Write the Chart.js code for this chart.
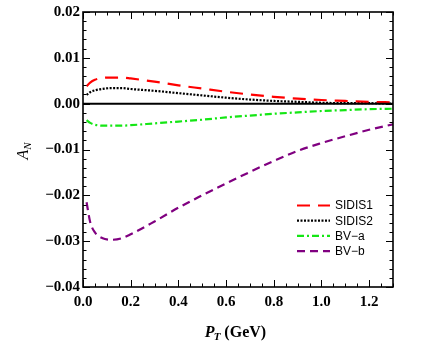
<!DOCTYPE html>
<html lang="en">
<head>
<meta charset="UTF-8" />
<title>A_N vs P_T</title>
<script src="https://cdn.jsdelivr.net/npm/chart.js@4.4.0/dist/chart.umd.min.js"></script>
<style>
  body { margin: 0; background: #fff; }
  canvas { display: block; }
</style>
</head>
<body>
<canvas id="chart" width="436" height="354"></canvas>
<script>
// values
const ptValues = [0.015, 0.03, 0.05, 0.08, 0.12, 0.16, 0.2, 0.3, 0.4, 0.5, 0.6, 0.7, 0.8, 0.9, 1.0, 1.1, 1.2, 1.3];
const sidis1 = [0.0038, 0.0046, 0.0052, 0.0056, 0.0057, 0.0057, 0.0055, 0.0048, 0.0040, 0.0033, 0.0026, 0.0020, 0.0015, 0.0011, 0.0008, 0.0006, 0.0004, 0.0003];
const sidis2 = [0.0019, 0.0025, 0.0029, 0.0032, 0.0034, 0.0034, 0.0032, 0.0028, 0.0023, 0.0018, 0.0013, 0.0009, 0.0006, 0.0004, 0.0002, 0.0001, 0.0001, 0.0000];
const bvA = [-0.0036, -0.0042, -0.0046, -0.0048, -0.0048, -0.0048, -0.0047, -0.0043, -0.0039, -0.0035, -0.0030, -0.0026, -0.0022, -0.0019, -0.0016, -0.0014, -0.0012, -0.0011];
const bvB = [-0.0215, -0.0258, -0.0281, -0.0293, -0.0297, -0.0294, -0.0285, -0.0257, -0.0227, -0.0200, -0.0174, -0.0149, -0.0125, -0.0103, -0.0086, -0.0071, -0.0057, -0.0045];

const seriesNames = ["SIDIS1", "SIDIS2", "BV\u2212a", "BV\u2212b"];
const seriesData = [sidis1, sidis2, bvA, bvB];
const seriesColors = ["#ff0000", "#000000", "#14e614", "#800080"];
const seriesDashes = [[13, 8], [2, 1.5], [7, 3, 2, 3], [8, 5]];

const xTickValues = [0, 0.2, 0.4, 0.6, 0.8, 1.0, 1.2];
const yTickValues = [-0.04, -0.03, -0.02, -0.01, 0, 0.01, 0.02];
const xRange = [0, 1.3];
const yRange = [-0.04, 0.02];

const tickFont = { family: "'Liberation Serif', 'Times New Roman', serif", size: 15, weight: "bold" };

function pts(arr) {
  return ptValues.map((x, i) => ({ x: x, y: arr[i] }));
}

const datasets = [{
  label: "zero",
  data: [{ x: xRange[0], y: 0 }, { x: xRange[1], y: 0 }],
  borderColor: "#000",
  borderWidth: 2,
  pointRadius: 0
}];
seriesNames.forEach((name, i) => {
  datasets.push({
    label: name,
    data: pts(seriesData[i]),
    borderColor: seriesColors[i],
    borderDash: seriesDashes[i],
    borderWidth: 2.2,
    pointRadius: 0,
    cubicInterpolationMode: "monotone"
  });
});

// inward ticks on all four sides plus the frame
const frameTicks = {
  id: "frameTicks",
  afterDatasetsDraw(chart) {
    const { ctx, chartArea: a, scales: { x, y } } = chart;
    ctx.save();
    ctx.strokeStyle = "#000";
    ctx.lineWidth = 1;
    ctx.beginPath();
    for (let i = 0; i <= 26; i++) {
      const px = Math.round(x.getPixelForValue(i * 0.05)) + 0.5;
      const len = i % 4 === 0 ? 7 : 3.5;
      ctx.moveTo(px, a.bottom); ctx.lineTo(px, a.bottom - len);
      ctx.moveTo(px, a.top); ctx.lineTo(px, a.top + len);
    }
    for (let i = 0; i <= 30; i++) {
      const py = Math.round(y.getPixelForValue(-0.04 + i * 0.002)) + 0.5;
      const len = i % 5 === 0 ? 7 : 3.5;
      ctx.moveTo(a.left, py); ctx.lineTo(a.left + len, py);
      ctx.moveTo(a.right, py); ctx.lineTo(a.right - len, py);
    }
    ctx.stroke();
    ctx.lineWidth = 1.6;
    ctx.strokeRect(a.left, a.top, a.right - a.left, a.bottom - a.top);
    ctx.restore();
  },
  afterDraw(chart) {
    const { ctx, chartArea: a } = chart;
    ctx.save();
    ctx.fillStyle = "#000";
    const serif = "'Liberation Serif', 'Times New Roman', serif";

    // x title: P_T (GeV)
    ctx.textBaseline = "alphabetic";
    ctx.textAlign = "left";
    const big = "bold italic 16px " + serif;
    const sub = "bold italic 11px " + serif;
    const rest = "bold 16px " + serif;
    ctx.font = big; const wP = ctx.measureText("P").width;
    ctx.font = sub; const wT = ctx.measureText("T").width;
    ctx.font = rest; const wG = ctx.measureText(" (GeV)").width;
    let x0 = (a.left + a.right) / 2 - (wP + wT + wG) / 2 - 2;
    const yb = 337;
    ctx.font = big; ctx.fillText("P", x0, yb);
    ctx.font = sub; ctx.fillText("T", x0 + wP - 1, yb + 3);
    ctx.font = rest; ctx.fillText(" (GeV)", x0 + wP + wT - 1, yb);

    // y title: A_N
    ctx.translate(28, 151);
    ctx.rotate(-Math.PI / 2);
    ctx.font = "italic 16px " + serif; const wA = ctx.measureText("A").width;
    ctx.font = "italic 11px " + serif; const wN = ctx.measureText("N").width;
    const s = -(wA + wN) / 2;
    ctx.font = "italic 16px " + serif; ctx.fillText("A", s, 0);
    ctx.font = "italic 11px " + serif; ctx.fillText("N", s + wA, 3);
    ctx.restore();

    // legend
    ctx.save();
    ctx.font = "12px 'Liberation Sans', Arial, sans-serif";
    ctx.textBaseline = "middle";
    ctx.textAlign = "left";
    seriesNames.forEach((name, i) => {
      const ly = 205.5 + i * 15.2;
      ctx.strokeStyle = seriesColors[i];
      ctx.lineWidth = 2.2;
      ctx.setLineDash(seriesDashes[i]);
      ctx.beginPath();
      ctx.moveTo(297, ly); ctx.lineTo(330, ly);
      ctx.stroke();
      ctx.setLineDash([]);
      ctx.fillStyle = "#000";
      ctx.fillText(name, 335, ly + 0.5);
    });
    ctx.restore();
  }
};

new Chart(document.getElementById("chart").getContext("2d"), {
  type: "line",
  data: { datasets: datasets },
  options: {
    responsive: false,
    animation: false,
    layout: { padding: { left: 0, top: 12, right: 43, bottom: 0 } },
    plugins: { legend: { display: false }, tooltip: { enabled: false } },
    scales: {
      x: {
        type: "linear",
        min: xRange[0], max: xRange[1],
        grid: { display: false, drawTicks: false },
        border: { display: false },
        afterBuildTicks: (scale) => { scale.ticks = xTickValues.map(v => ({ value: v })); },
        afterFit: (scale) => { scale.height = 67; },
        ticks: {
          color: "#000", font: tickFont, padding: 6, maxRotation: 0, autoSkip: false,
          callback: (v) => v.toFixed(1)
        }
      },
      y: {
        min: yRange[0], max: yRange[1],
        grid: { display: false, drawTicks: false },
        border: { display: false },
        afterBuildTicks: (scale) => { scale.ticks = yTickValues.map(v => ({ value: v })); },
        afterFit: (scale) => { scale.width = 83; },
        ticks: {
          color: "#000", font: tickFont, padding: 3, autoSkip: false,
          callback: (v) => (v < 0 ? "\u2212" : "") + Math.abs(v).toFixed(2)
        }
      }
    }
  },
  plugins: [frameTicks]
});
</script>
</body>
</html>
